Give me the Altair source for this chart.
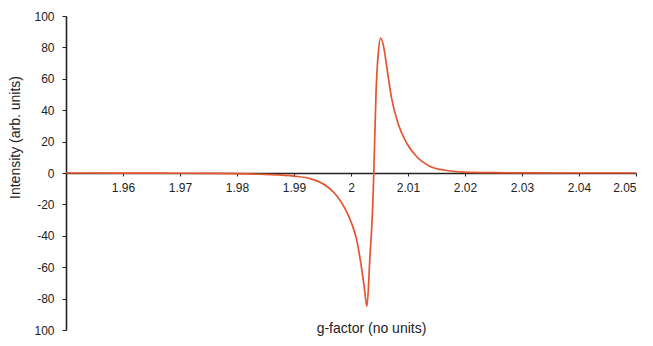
import altair as alt
import pandas as pd

# Data (EPR derivative spectrum)
g_factor = [1.95, 1.96, 1.97, 1.975, 1.98, 1.985, 1.99, 1.9934, 1.9957, 1.9975,
            1.999, 2.0001, 2.001, 2.0017, 2.0023, 2.0028, 2.0033, 2.0038, 2.0040,
            2.0044, 2.0048, 2.0052, 2.0057, 2.0063, 2.0071, 2.0083, 2.0098, 2.0115,
            2.0139, 2.0168, 2.0197, 2.025, 2.03, 2.04, 2.05]
intensity = [0.0, -0.1, -0.15, -0.25, -0.4, -0.9, -2.0, -4.2, -8.3, -14.5,
             -23.0, -32.0, -42.6, -57.0, -72.0, -85.0, -55.0, -22.0, 0.0,
             52.0, 77.0, 86.0, 81.0, 67.0, 48.0, 31.0, 18.8, 10.5,
             4.2, 1.6, 0.6, 0.2, 0.1, 0.0, 0.0]

x_ticks = [1.96, 1.97, 1.98, 1.99, 2.0, 2.01, 2.02, 2.03, 2.04, 2.05]
y_ticks = [-100, -80, -60, -40, -20, 0, 20, 40, 60, 80, 100]

df = pd.DataFrame({"g": g_factor, "intensity": intensity})

W, H = 570, 314
FONT = "Liberation Sans"

chart = alt.Chart(df).mark_line(
    color="#e5532f", strokeWidth=1.7, interpolate="monotone"
).encode(
    x=alt.X("g:Q",
            scale=alt.Scale(domain=[1.95, 2.05], nice=False, zero=False),
            axis=alt.Axis(values=x_ticks, format=".2~f", title="g-factor (no units)",
                          offset=-H / 2, grid=False,
                          domainColor="#222", domainWidth=1.6,
                          tickColor="#222", tickSize=3, tickWidth=1,
                          labelPadding=6, labelFont=FONT, labelFontSize=12,
                          labelColor="#222",
                          titleFont=FONT, titleFontSize=14, titleFontWeight="normal",
                          titleColor="#222", titleX=305, titleY=162,
                          titleBaseline="bottom", titleAlign="center")),
    y=alt.Y("intensity:Q",
            scale=alt.Scale(domain=[-100, 100], nice=False),
            axis=alt.Axis(values=y_ticks, title="Intensity (arb. units)", grid=False,
                          labelExpr="datum.value == -100 ? '100' : '' + datum.value",
                          domainColor="#222", domainWidth=1.6,
                          tickColor="#222", tickSize=4, tickWidth=1,
                          labelPadding=8, labelFont=FONT, labelFontSize=12,
                          labelColor="#222",
                          titleFont=FONT, titleFontSize=14, titleFontWeight="normal",
                          titleColor="#222", titleX=-51, titleY=121,
                          titleBaseline="middle", titleAlign="center", titleAngle=-90)),
).properties(
    width=W, height=H,
    padding={"left": 58, "top": 8, "right": 9, "bottom": 8},
    autosize=alt.AutoSizeParams(type="none"),
    background="white",
).configure_view(stroke=None)

chart.save("out.html", embed_options={"renderer": "svg", "actions": False})
